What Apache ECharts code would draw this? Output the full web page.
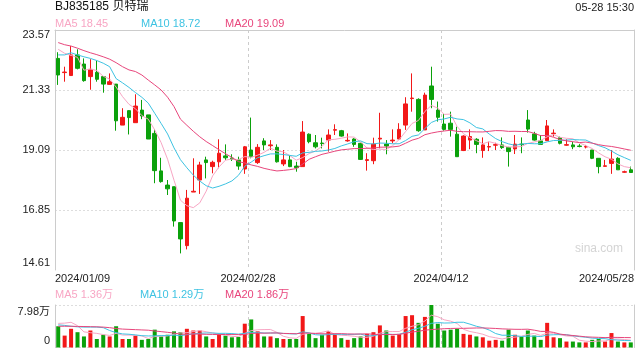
<!DOCTYPE html>
<html><head><meta charset="utf-8">
<script src="https://cdn.jsdelivr.net/npm/echarts@6/dist/echarts.min.js"></script>
<style>html,body{margin:0;padding:0;background:#fff}#c{width:640px;height:360px}</style>
</head><body><div id="c"></div>
<script>
const dates = [
'2024/01/09','2024/01/10','2024/01/11','2024/01/12','2024/01/15','2024/01/16','2024/01/17','2024/01/18','2024/01/19','2024/01/22',
'2024/01/23','2024/01/24','2024/01/25','2024/01/26','2024/01/29','2024/01/30','2024/01/31','2024/02/01','2024/02/02','2024/02/05',
'2024/02/06','2024/02/07','2024/02/08','2024/02/19','2024/02/20','2024/02/21','2024/02/22','2024/02/23','2024/02/26','2024/02/27',
'2024/02/28','2024/02/29','2024/03/01','2024/03/04','2024/03/05','2024/03/06','2024/03/07','2024/03/08','2024/03/11','2024/03/12',
'2024/03/13','2024/03/14','2024/03/15','2024/03/18','2024/03/19','2024/03/20','2024/03/21','2024/03/22','2024/03/25','2024/03/26',
'2024/03/27','2024/03/28','2024/03/29','2024/04/01','2024/04/02','2024/04/03','2024/04/08','2024/04/09','2024/04/10','2024/04/11',
'2024/04/12','2024/04/15','2024/04/16','2024/04/17','2024/04/18','2024/04/19','2024/04/22','2024/04/23','2024/04/24','2024/04/25',
'2024/04/26','2024/04/29','2024/04/30','2024/05/06','2024/05/07','2024/05/08','2024/05/09','2024/05/10','2024/05/13','2024/05/14',
'2024/05/15','2024/05/16','2024/05/17','2024/05/20','2024/05/21','2024/05/22','2024/05/23','2024/05/24','2024/05/27','2024/05/28'];

const opens = [22.51,21.98,21.87,22.64,22.30,21.83,21.99,21.83,21.54,21.55,
20.02,20.56,20.11,20.58,20.40,19.71,18.31,17.78,17.72,16.38,
15.52,17.52,17.97,18.72,18.47,18.65,18.87,18.79,18.72,18.38,
19.09,18.62,19.43,19.25,19.19,18.57,18.72,18.49,18.47,19.68,
19.36,19.35,19.46,19.83,19.81,19.43,19.50,19.34,18.70,18.69,
19.50,19.31,19.43,19.50,20.02,21.01,20.98,19.84,21.48,20.58,
20.06,20.09,19.68,19.07,19.46,19.49,19.07,19.20,19.27,19.28,
19.18,19.13,19.31,20.21,19.69,19.43,19.44,19.70,19.55,19.27,
19.28,19.24,19.20,19.09,18.78,18.48,18.59,18.78,18.26,18.35];
const closes = [21.89,22.00,22.64,22.14,21.68,22.10,21.73,21.55,21.64,20.18,
20.31,20.30,20.73,20.36,19.50,18.32,17.91,17.64,16.44,15.77,
17.29,17.55,18.53,18.62,18.63,18.97,18.80,18.75,18.49,19.21,
18.84,19.19,19.28,19.28,18.65,18.72,18.47,18.43,19.76,19.40,
19.21,19.33,19.65,19.85,19.61,19.45,19.30,18.74,18.73,19.31,
19.53,19.24,19.46,19.86,20.81,21.03,19.81,21.14,20.98,20.31,
19.86,19.86,18.84,19.61,19.59,19.30,19.28,19.22,19.29,19.18,
19.03,19.31,19.29,19.87,19.46,19.30,19.99,19.72,19.34,19.29,
19.21,19.22,19.22,18.78,18.47,18.50,18.75,18.35,18.28,18.25];
const lows = [21.52,21.64,21.87,22.10,21.64,21.34,21.64,21.23,21.52,19.81,
20.02,19.67,20.11,20.24,19.50,17.85,17.87,17.41,16.23,15.23,
15.38,17.52,17.45,18.03,18.22,18.41,18.72,18.68,18.35,18.20,
18.78,18.57,19.09,19.09,18.62,18.49,18.45,18.28,18.47,19.34,
19.15,19.15,19.03,19.65,19.59,19.40,19.21,18.72,18.32,18.56,
19.15,18.93,19.34,19.49,19.84,20.52,19.77,19.84,20.65,20.15,
19.81,19.59,18.84,19.05,19.12,18.97,18.80,19.05,19.09,19.13,
18.47,18.94,18.97,19.74,19.44,19.28,19.44,19.59,19.30,19.25,
19.12,19.19,19.15,18.75,18.22,18.47,18.20,18.35,18.24,18.25];
const highs = [22.74,22.20,22.97,22.85,22.51,22.48,22.43,21.85,21.95,21.55,
20.65,20.58,21.17,20.96,20.40,19.86,18.80,17.97,17.72,16.38,
17.60,18.78,18.65,18.84,18.69,19.49,19.30,18.93,18.84,19.24,
20.30,19.31,19.53,19.46,19.30,19.09,18.90,18.65,20.17,19.71,
19.65,19.55,19.86,20.05,19.84,19.71,19.53,19.36,18.97,19.55,
20.48,19.46,19.86,20.09,21.06,21.95,21.02,21.23,22.20,20.90,
20.43,20.52,19.96,19.64,19.86,19.53,19.56,19.40,19.36,19.56,
19.21,19.65,19.56,20.58,19.77,19.65,20.21,19.86,19.59,19.49,
19.40,19.31,19.28,19.09,18.78,18.72,19.09,18.82,18.32,18.47];
const volumes = [39900,22344,35112,28728,20748,31920,15960,23940,20748,39900,
15960,15960,22344,14364,15960,33516,20748,23940,30324,28728,
35112,31920,31920,20748,15960,25536,22344,19152,19684,44688,
52668,30324,20748,20748,17556,15960,15960,15960,59052,25536,
17556,23940,30324,25536,17556,14364,17556,20748,25536,28728,
41496,31920,22344,25536,59052,60648,46284,57456,79800,44688,
31920,33516,35112,25536,23940,20748,19152,12768,14364,12768,
33516,23940,20748,31920,22344,14364,46284,19152,17556,11172,
11172,9576,9576,14364,15960,11172,27132,11172,9576,9576];

// moving-average values before enough in-window history exists
const ma5Head = [22.85,22.70,22.62,22.55];
const ma10Head = [22.64,22.64,22.72,22.64,22.57,22.51,22.43,22.33,22.20];
const ma20Head = [23.10,23.02,22.97,22.89,22.80,22.72,22.65,22.57,22.48,22.35,22.20,22.08,22.02,21.89,21.70,21.52,21.33,21.06,20.71];
const vma5Head = [45220,45752,47348,40964];
const vma10Head = [42560,41496,39900,38836,38304,38304,38304,37240,31920];
const vma20Head = [39900,39900,39900,39600,39368,39100,38836,38304,37240,35644,34580,34048,33516,32984,32452,31000,29800,28500,27000];

const yTicks = [14.61,16.85,19.09,21.33,23.57];
const volTicks = [0,79800];
const volTickLabels = ['0','7.98万'];
const xTickLabels = ['2024/01/09','2024/02/28','2024/04/12','2024/05/28'];
const maLabels = ['MA5 18.45','MA10 18.72','MA20 19.09'];
const volMaLabels = ['MA5 1.36万','MA10 1.29万','MA20 1.86万'];
const titleText = 'BJ835185 贝特瑞';
const timeText = '05-28 15:30';

function calcMA(n, head, src) {
  return src.map((_, i) => {
    if (i < n - 1) return head[i];
    let s = 0; for (let k = i - n + 1; k <= i; k++) s += src[k];
    return +(s / n).toFixed(3);
  });
}

const UP = '#f21818', DOWN = '#0ba10b';
const C5 = '#f8a6c4', C10 = '#3ec3e2', C20 = '#e8467c';
const FONT = '"Liberation Sans", Arial, "Noto Sans CJK SC", sans-serif';
const GRIDC = '#cccccc';

const yMin = yTicks[0], yMax = yTicks[yTicks.length - 1];
const vMax = volTicks[1];

const candleData = dates.map((_, i) => [opens[i], closes[i], lows[i], highs[i]]);
const volData = volumes.map((v, i) => ({ value: v, itemStyle: { color: closes[i] >= opens[i] ? UP : DOWN } }));

const rich = { s10: { lineHeight: 10 }, s14: { lineHeight: 14 } };
function txt(t, left, top, color, size, extra) {
  return Object.assign({ text: t, left: left, top: top, padding: 0,
    textStyle: { fontSize: size, fontWeight: 'normal', color: color, fontFamily: FONT } }, extra || {});
}

const lineS = (name, data, color, xi, yi) => ({
  name, type: 'line', data, xAxisIndex: xi, yAxisIndex: yi, showSymbol: false, symbol: 'none',
  lineStyle: { width: 1, color }, itemStyle: { color }, silent: true
});

const chart = echarts.init(document.getElementById('c'), null, { renderer: 'canvas' });
chart.setOption({
  animation: false,
  backgroundColor: '#fff',
  textStyle: { fontFamily: FONT },
  title: [
    txt(titleText, 55, 1, '#111', 12),
    { text: timeText, right: 6, top: 2, padding: 0, textStyle: { fontSize: 11, fontWeight: 'normal', color: '#222', fontFamily: FONT } },
    txt(maLabels[0], 55, 18, C5, 11),
    txt(maLabels[1], 141, 18, C10, 11),
    txt(maLabels[2], 225, 18, C20, 11),
    txt(volMaLabels[0], 55, 289, C5, 11),
    txt(volMaLabels[1], 140, 289, C10, 11),
    txt(volMaLabels[2], 225, 289, C20, 11),
    { text: 'sina.com', right: 17, top: 243, padding: 0, textStyle: { fontSize: 12, fontWeight: 'normal', color: '#d4d4d4', fontFamily: FONT } }
  ],
  grid: [
    { left: 55, top: 30, width: 579, height: 240 },
    { left: 55, top: 305, width: 579, height: 50 }
  ],
  xAxis: [
    { type: 'category', gridIndex: 0, data: dates, position: 'top', boundaryGap: true,
      axisLine: { show: true, lineStyle: { color: GRIDC } }, axisTick: { show: false }, axisLabel: { show: false }, splitLine: { show: false } },
    { type: 'value', gridIndex: 0, min: 0, max: 90, interval: 30, position: 'bottom',
      axisLine: { show: false }, axisTick: { show: false },
      splitLine: { show: true, showMinLine: false, showMaxLine: false, lineStyle: { color: GRIDC, type: [3, 3], width: 1 } },
      axisLabel: { show: true, margin: 3, fontSize: 11, color: '#222', fontFamily: FONT, showMinLabel: true, showMaxLabel: true,
        alignMinLabel: 'left', alignMaxLabel: 'right', formatter: v => xTickLabels[Math.round(v / 30)] } },
    { type: 'category', gridIndex: 1, data: dates, position: 'top', boundaryGap: true,
      axisLine: { show: false }, axisTick: { show: false }, axisLabel: { show: false }, splitLine: { show: false } },
    { type: 'value', gridIndex: 1, min: 0, max: 90, interval: 30, position: 'bottom',
      axisLine: { show: false }, axisTick: { show: false }, axisLabel: { show: false },
      splitLine: { show: true, showMinLine: false, showMaxLine: false, lineStyle: { color: GRIDC, type: [3, 3], width: 1 } } }
  ],
  yAxis: [
    { type: 'value', gridIndex: 0, min: yMin, max: yMax, position: 'left', scale: true,
      axisLine: { show: true, lineStyle: { color: GRIDC } },
      axisTick: { show: false, customValues: yTicks },
      axisLabel: { show: true, customValues: yTicks, margin: 5, fontSize: 11, lineHeight: 11, color: '#222', fontFamily: FONT,
        showMinLabel: true, showMaxLabel: true, rich,
        formatter: v => { const s = v.toFixed(2); if (v === yMax) return '{s10| }\n' + s; if (v === yMin) return s + '\n{s14| }'; return s; } },
      splitLine: { show: true, showMinLine: false, showMaxLine: false, lineStyle: { color: '#dddddd', type: [2, 2], width: 1 } } },
    { type: 'value', gridIndex: 0, min: yMin, max: yMax, position: 'right', scale: true,
      axisLine: { show: true, lineStyle: { color: GRIDC } }, axisTick: { show: false }, axisLabel: { show: false }, splitLine: { show: false } },
    { type: 'value', gridIndex: 1, min: 0, max: vMax, position: 'left',
      axisLine: { show: true, lineStyle: { color: GRIDC } },
      axisTick: { show: false, customValues: volTicks },
      axisLabel: { show: true, customValues: volTicks, margin: 5, fontSize: 11, lineHeight: 11, color: '#222', fontFamily: FONT,
        showMinLabel: true, showMaxLabel: true, rich,
        formatter: v => { const s = volTickLabels[volTicks.indexOf(v)]; if (v === vMax) return '{s14| }\n' + s; return s + '\n{s14| }'; } },
      splitLine: { show: true, showMinLine: true, showMaxLine: true, lineStyle: { color: '#dddddd', type: [2, 2], width: 1 } } },
    { type: 'value', gridIndex: 1, min: 0, max: vMax, position: 'right',
      axisLine: { show: true, lineStyle: { color: GRIDC } }, axisTick: { show: false }, axisLabel: { show: false }, splitLine: { show: false } }
  ],
  series: [
    { name: 'K', type: 'candlestick', xAxisIndex: 0, yAxisIndex: 0, data: candleData, barWidth: 4, silent: true,
      itemStyle: { color: UP, color0: DOWN, borderColor: UP, borderColor0: DOWN, borderWidth: 1 } },
    lineS('MA5', calcMA(5, ma5Head, closes), C5, 0, 0),
    lineS('MA10', calcMA(10, ma10Head, closes), C10, 0, 0),
    lineS('MA20', calcMA(20, ma20Head, closes), C20, 0, 0),
    { name: 'VOL', type: 'bar', xAxisIndex: 2, yAxisIndex: 2, data: volData, barWidth: 4, silent: true },
    lineS('VMA5', calcMA(5, vma5Head, volumes), C5, 2, 2),
    lineS('VMA10', calcMA(10, vma10Head, volumes), C10, 2, 2),
    lineS('VMA20', calcMA(20, vma20Head, volumes), C20, 2, 2)
  ]
});
</script>
</body></html>
